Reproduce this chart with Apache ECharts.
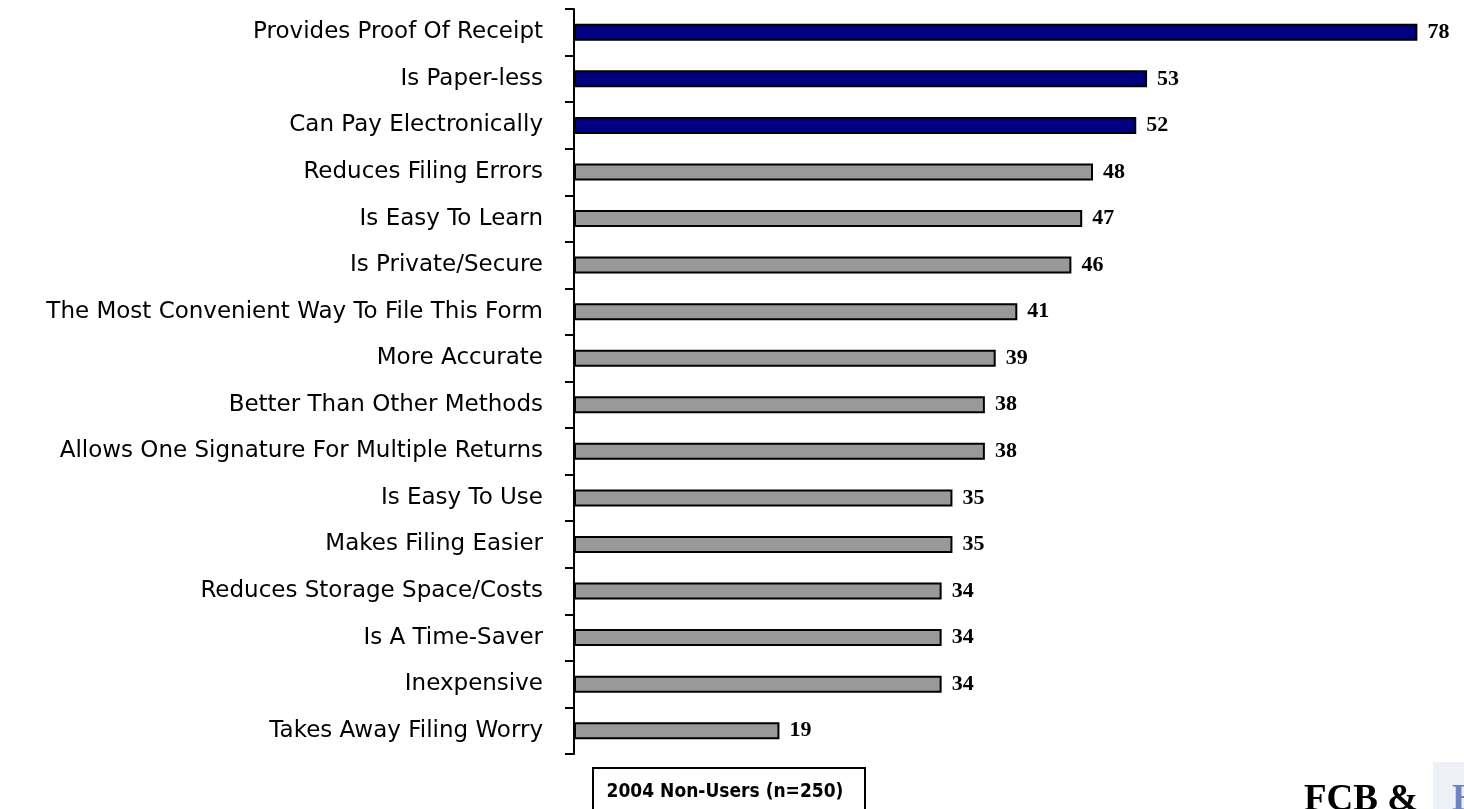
<!DOCTYPE html>
<html>
<head>
<meta charset="utf-8">
<script src="https://cdn.jsdelivr.net/npm/echarts@6/dist/echarts.min.js"></script>
<style>
  html, body { margin: 0; padding: 0; background: #fff; }
  #chart { width: 1464px; height: 809px; }
</style>
</head>
<body>
<div id="chart"></div>
<script>
// reasons, top to bottom
const categories = [
  'Provides Proof Of Receipt',
  'Is Paper-less',
  'Can Pay Electronically',
  'Reduces Filing Errors',
  'Is Easy To Learn',
  'Is Private/Secure',
  'The Most Convenient Way To File This Form',
  'More Accurate',
  'Better Than Other Methods',
  'Allows One Signature For Multiple Returns',
  'Is Easy To Use',
  'Makes Filing Easier',
  'Reduces Storage Space/Costs',
  'Is A Time-Saver',
  'Inexpensive',
  'Takes Away Filing Worry'
];
const values = [78, 53, 52, 48, 47, 46, 41, 39, 38, 38, 35, 35, 34, 34, 34, 19];
const highlighted = [true, true, true, false, false, false, false, false, false, false, false, false, false, false, false, false];
const legendText = '2004 Non-Users (n=250)';

const navy = '#000080';
const grey = '#999999';

const chart = echarts.init(document.getElementById('chart'));

chart.setOption({
  animation: false,
  backgroundColor: '#ffffff',
  grid: { left: 574, right: 25, top: 9, bottom: 55 },
  xAxis: {
    type: 'value',
    min: 0,
    max: 80,
    show: false
  },
  yAxis: {
    type: 'category',
    inverse: true,
    data: categories,
    axisLine: { show: true, lineStyle: { color: '#000', width: 2 } },
    axisTick: { show: true, length: 9, lineStyle: { color: '#000', width: 2 } },
    axisLabel: {
      margin: 31,
      color: '#000',
      fontFamily: 'DejaVu Sans',
      fontSize: 23
    },
    splitLine: { show: false }
  },
  series: [{
    type: 'bar',
    barWidth: 17,
    data: values.map((v, i) => ({
      value: v,
      itemStyle: { color: highlighted[i] ? navy : grey }
    })),
    itemStyle: { borderColor: '#000', borderWidth: 2 },
    label: {
      show: true,
      position: 'right',
      distance: 10,
      color: '#000',
      fontFamily: 'Liberation Serif',
      fontWeight: 'bold',
      fontSize: 22
    }
  }],
  graphic: [
    {
      type: 'rect',
      shape: { x: 593, y: 768, width: 272, height: 52 },
      style: { fill: '#fff', stroke: '#000', lineWidth: 2 }
    },
    {
      type: 'text',
      x: 725, y: 792,
      style: {
        text: legendText,
        fill: '#000',
        font: 'bold 19px "DejaVu Sans Condensed", "DejaVu Sans"',
        align: 'center',
        verticalAlign: 'middle'
      }
    },
    {
      type: 'rect',
      shape: { x: 1433, y: 762, width: 31, height: 47 },
      style: { fill: '#eef0f7' }
    },
    {
      type: 'text',
      x: 1304, y: 782,
      style: {
        text: 'FCB &',
        fill: '#000',
        font: 'bold 37px "Liberation Serif"',
        align: 'left',
        verticalAlign: 'top'
      }
    },
    {
      type: 'text',
      x: 1452, y: 782,
      style: {
        text: 'H',
        fill: '#6f82c4',
        font: 'bold 37px "Liberation Serif"',
        align: 'left',
        verticalAlign: 'top'
      }
    }
  ]
});
</script>
</body>
</html>
